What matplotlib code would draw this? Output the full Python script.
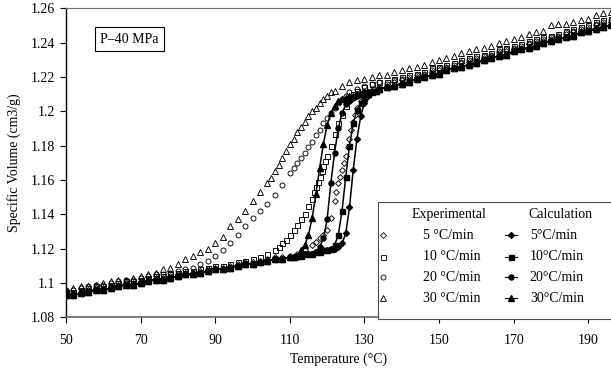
import numpy as np
import matplotlib.pyplot as plt
from matplotlib.patches import Rectangle

plt.rcParams['font.family'] = ['Liberation Serif', 'DejaVu Serif']
plt.rcParams['font.size'] = 10

# ------------------------------ experimental data ------------------------------
# 5 C/min (hollow diamonds)
t_exp5 = list(range(50, 112, 2)) + [112, 114, 116, 117, 118, 119, 120, 121, 122, 122.5, 123, 123.5,
                                    124, 124.5, 125, 125.5, 126, 126.5, 127, 127.5, 128, 129, 130,
                                    131, 132, 134] + list(range(136, 198, 2))
v_exp5 = [1.094, 1.094, 1.095, 1.096, 1.097, 1.097, 1.098, 1.099, 1.100, 1.100, 1.101, 1.102,
          1.103, 1.103, 1.104, 1.105, 1.106, 1.106, 1.107, 1.108, 1.109, 1.109, 1.110, 1.111,
          1.112, 1.112, 1.113, 1.114, 1.115, 1.115, 1.116,
          1.117, 1.119, 1.122, 1.124, 1.126, 1.128, 1.131, 1.138, 1.148, 1.153, 1.158, 1.162,
          1.166, 1.170, 1.174, 1.179, 1.184, 1.189, 1.194, 1.198, 1.202, 1.206, 1.209, 1.211,
          1.212, 1.214,
          1.215, 1.217, 1.218, 1.219, 1.220, 1.221, 1.223, 1.224, 1.225, 1.226, 1.228, 1.229,
          1.230, 1.231, 1.232, 1.234, 1.235, 1.236, 1.237, 1.239, 1.240, 1.241, 1.242, 1.243,
          1.245, 1.246, 1.247, 1.248, 1.250, 1.251, 1.252]

# 10 C/min (hollow squares)
t_exp10 = list(range(50, 98, 2)) + [98, 100, 102, 104, 106, 107, 108, 109, 110, 111, 112, 113, 114,
                                    115, 116, 116.5, 117, 117.5, 118, 118.5, 119, 119.5, 120, 121,
                                    122, 123, 124, 125, 126, 127, 128, 130, 132, 134] + list(range(136, 198, 2))
v_exp10 = [1.095, 1.095, 1.096, 1.097, 1.098, 1.098, 1.099, 1.100, 1.101, 1.101, 1.102, 1.103,
           1.104, 1.104, 1.105, 1.106, 1.107, 1.107, 1.108, 1.109, 1.110, 1.110, 1.111, 1.112,
           1.113, 1.114, 1.115, 1.117, 1.119, 1.121, 1.123, 1.125, 1.128, 1.131, 1.134, 1.137,
           1.140, 1.145, 1.149, 1.153, 1.156, 1.159, 1.162, 1.165, 1.168, 1.171, 1.174, 1.180,
           1.187, 1.193, 1.198, 1.203, 1.207, 1.210, 1.212, 1.214, 1.216, 1.217,
           1.217, 1.219, 1.220, 1.221, 1.222, 1.223, 1.225, 1.226, 1.227, 1.228, 1.230, 1.231,
           1.232, 1.233, 1.234, 1.236, 1.237, 1.238, 1.239, 1.241, 1.242, 1.243, 1.244, 1.245,
           1.247, 1.248, 1.249, 1.250, 1.252, 1.253, 1.254]

# 20 C/min (hollow circles)
t_exp20 = list(range(50, 82, 2)) + list(range(82, 112, 2)) + list(range(111, 127)) + \
    [128, 130, 132, 134] + list(range(136, 198, 2))
v_exp20 = [1.096, 1.096, 1.097, 1.098, 1.099, 1.099, 1.100, 1.101, 1.102, 1.102, 1.103, 1.104,
           1.105, 1.105, 1.106, 1.107,
           1.108, 1.109, 1.111, 1.113, 1.116, 1.119, 1.123, 1.128, 1.133, 1.138, 1.142, 1.146,
           1.151, 1.157, 1.164,
           1.167, 1.170, 1.173, 1.176, 1.179, 1.182, 1.186, 1.189, 1.193, 1.196, 1.199, 1.202,
           1.205, 1.207, 1.209, 1.211,
           1.213, 1.215, 1.216, 1.217,
           1.216, 1.218, 1.219, 1.220, 1.221, 1.222, 1.224, 1.225, 1.226, 1.227, 1.229, 1.230,
           1.231, 1.232, 1.233, 1.235, 1.236, 1.237, 1.238, 1.240, 1.241, 1.242, 1.243, 1.244,
           1.246, 1.247, 1.248, 1.249, 1.251, 1.252, 1.253]

# 30 C/min (hollow triangles)
t_exp30 = list(range(50, 72, 2)) + list(range(72, 106, 2)) + list(range(105, 123)) + \
    list(range(124, 136, 2)) + list(range(136, 198, 2))
v_exp30 = [1.096, 1.097, 1.098, 1.098, 1.099, 1.100, 1.101, 1.102, 1.102, 1.103, 1.104,
           1.105, 1.106, 1.108, 1.109, 1.111, 1.114, 1.116, 1.118, 1.120, 1.123, 1.127, 1.133,
           1.137, 1.142, 1.148, 1.153, 1.158,
           1.161, 1.165, 1.169, 1.173, 1.177, 1.181, 1.184, 1.188, 1.191, 1.194, 1.197, 1.200,
           1.202, 1.205, 1.207, 1.209, 1.211, 1.212,
           1.215, 1.217, 1.218, 1.219, 1.220, 1.221,
           1.221, 1.223, 1.224, 1.225, 1.226, 1.227, 1.229, 1.230, 1.231, 1.232, 1.234, 1.235,
           1.236, 1.237, 1.238, 1.240, 1.241, 1.242, 1.243, 1.245, 1.246, 1.247, 1.250, 1.251,
           1.251, 1.252, 1.253, 1.254, 1.256, 1.257, 1.258]

# ------------------------------ calculation ------------------------------
calc_glass_t = list(range(50, 112, 2))
calc_glass_v = [1.093, 1.093, 1.094, 1.095, 1.096, 1.096, 1.097, 1.098, 1.099, 1.099, 1.100,
                1.101, 1.102, 1.102, 1.103, 1.104, 1.105, 1.105, 1.106, 1.107, 1.108, 1.108,
                1.109, 1.110, 1.111, 1.111, 1.112, 1.113, 1.114, 1.114, 1.115]
calc_mid_t = list(range(111, 135))
calc5_mid = [1.115, 1.116, 1.116, 1.117, 1.117, 1.117, 1.118, 1.118, 1.119, 1.119, 1.120, 1.120,
             1.121, 1.123, 1.129, 1.144, 1.166, 1.184, 1.197, 1.205, 1.209, 1.211, 1.212, 1.213]
calc10_mid = [1.115, 1.116, 1.116, 1.117, 1.117, 1.117, 1.118, 1.118, 1.119, 1.119, 1.120, 1.122,
              1.128, 1.142, 1.162, 1.180, 1.193, 1.201, 1.205, 1.208, 1.210, 1.211, 1.212, 1.213]
calc20_mid = [1.115, 1.116, 1.116, 1.117, 1.117, 1.117, 1.118, 1.121, 1.126, 1.137, 1.158, 1.176,
              1.190, 1.199, 1.204, 1.206, 1.208, 1.209, 1.210, 1.211, 1.211, 1.212, 1.212, 1.213]
calc30_mid = [1.115, 1.116, 1.119, 1.122, 1.128, 1.138, 1.152, 1.167, 1.181, 1.192, 1.199, 1.203,
              1.206, 1.207, 1.208, 1.209, 1.209, 1.210, 1.210, 1.211, 1.211, 1.212, 1.212, 1.213]
calc_melt_t = list(range(136, 198, 2))
calc_melt_v = [1.214, 1.215, 1.216, 1.217, 1.219, 1.220, 1.221, 1.222, 1.224, 1.225, 1.226,
               1.227, 1.228, 1.230, 1.231, 1.232, 1.233, 1.235, 1.236, 1.237, 1.238, 1.240,
               1.241, 1.242, 1.243, 1.244, 1.246, 1.247, 1.248, 1.249, 1.250]

rates = ['5', '10', '20', '30']
markers = ['D', 's', 'o', '^']
sizes = [3.0, 3.6, 3.6, 4.2]
exp_t = [t_exp5, t_exp10, t_exp20, t_exp30]
exp_v = [v_exp5, v_exp10, v_exp20, v_exp30]
calc_mid = [calc5_mid, calc10_mid, calc20_mid, calc30_mid]

fig = plt.figure(figsize=(6.11, 3.72), dpi=100)
ax = fig.add_axes([0.108, 0.147, 0.892, 0.8307])

for t, v, m, s in zip(exp_t, exp_v, markers, sizes):
    ax.plot(t, v, linestyle='none', marker=m, ms=s, mfc='none', mec='k', mew=0.65)

for mid, m, s in zip(calc_mid, markers, sizes):
    t = calc_glass_t + calc_mid_t + calc_melt_t
    v = calc_glass_v + mid + calc_melt_v
    ax.plot(t, v, '-', color='k', lw=1.1, marker=m, ms=s, mfc='k', mec='k')

ax.set_xlim(50, 196.1)
ax.set_ylim(1.08, 1.26)
ax.set_xticks(range(50, 200, 20))
yt = np.arange(1.08, 1.2601, 0.02)
ax.set_yticks(yt)
ax.set_yticklabels([f'{round(y, 2):g}' for y in yt])
ax.tick_params(direction='out', length=4, width=0.8, labelsize=10)
ax.tick_params(axis='x', pad=8)
ax.tick_params(axis='y', pad=4)

ax.spines['right'].set_visible(False)
ax.spines['top'].set_color('0.45')
ax.spines['top'].set_linewidth(0.8)
ax.spines['bottom'].set_color('0.4')
ax.spines['bottom'].set_linewidth(1.2)
ax.spines['left'].set_linewidth(1.0)

ax.set_xlabel('Temperature (°C)', fontsize=10, labelpad=4)
ax.set_ylabel('Specific Volume (cm3/g)', fontsize=10, labelpad=7)

ax.text(0.1165, 0.900, 'P–40 MPa', transform=ax.transAxes, ha='center', va='center',
        fontsize=10, bbox=dict(boxstyle='square,pad=0.4', fc='white', ec='k', lw=0.8))

# legend box drawn by hand (two columns with headers)
ax.add_patch(Rectangle((0.5725, -0.004), 0.44, 0.377, transform=ax.transAxes, fc='white',
                       ec='0.3', lw=0.8, clip_on=False, zorder=5))
ax.text(0.634, 0.334, 'Experimental', transform=ax.transAxes, va='center', zorder=6)
ax.text(0.848, 0.334, 'Calculation', transform=ax.transAxes, va='center', zorder=6)
rows = [0.265, 0.196, 0.129, 0.0615]
for rate, m, s, y in zip(rates, markers, sizes, rows):
    ax.plot([0.582], [y], marker=m, ms=s, mfc='none', mec='k', mew=0.6,
            transform=ax.transAxes, clip_on=False, zorder=6)
    ax.text(0.655, y, rate + ' °C/min', transform=ax.transAxes, va='center', zorder=6)
    ax.plot([0.8055, 0.8165, 0.8275], [y, y, y], '-', color='k', lw=0.8, marker=m, ms=s,
            markevery=[1], transform=ax.transAxes, clip_on=False, zorder=6)
    ax.text(0.851, y, rate + '°C/min', transform=ax.transAxes, va='center', zorder=6)

fig.savefig('out.png', dpi=100)
